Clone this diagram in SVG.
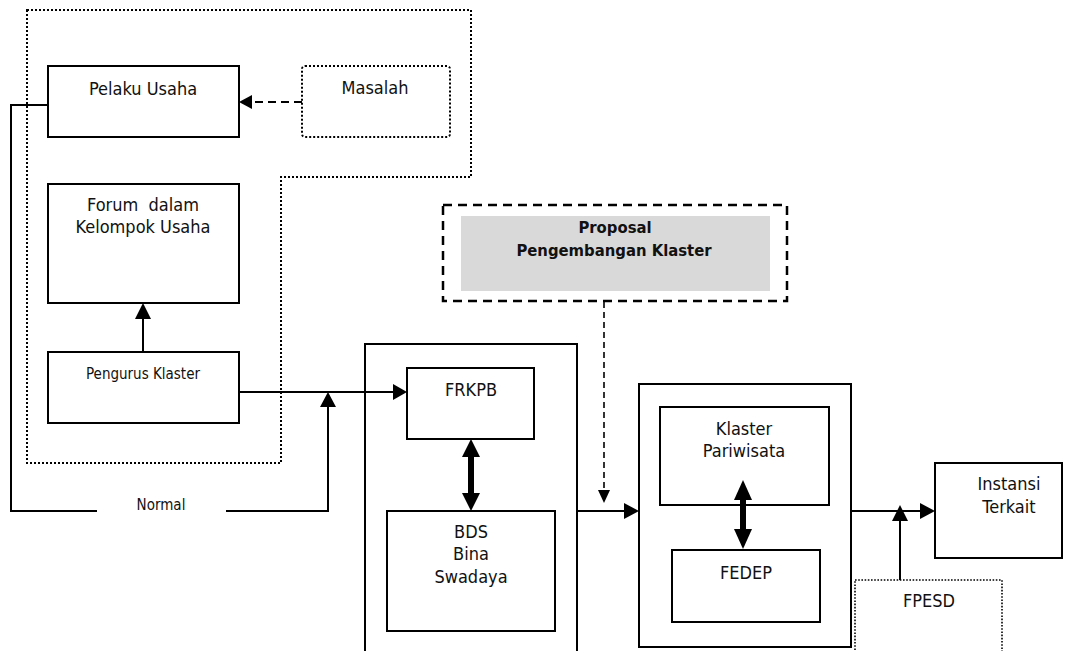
<svg xmlns="http://www.w3.org/2000/svg" width="1072" height="651" viewBox="0 0 1072 651">
<style>
text{font-family:"DejaVu Sans Condensed","DejaVu Sans",sans-serif;font-stretch:condensed;font-size:18px;fill:#111;text-anchor:middle}
.sm{font-size:15px}
.b{font-weight:bold;font-size:16.5px}
.box{fill:#fff;stroke:#000;stroke-width:2}
.dot{fill:none;stroke:#000;stroke-width:2;stroke-dasharray:2 2}
.ln{fill:none;stroke:#000;stroke-width:2}
</style>
<rect width="1072" height="651" fill="#fff"/>
<g id="cluster-boundary">
<path class="dot" d="M27,10 H471 V177 H281 V463 H27 Z"/>
</g>
<g id="pelaku-usaha"><rect class="box" x="48" y="66" width="191" height="71"/><text x="143" y="95">Pelaku Usaha</text></g>
<g id="masalah"><rect x="302" y="66" width="148" height="71" rx="3" fill="#fff" stroke="#000" stroke-width="2" stroke-dasharray="2 2"/><text x="375" y="94">Masalah</text></g>
<g id="forum"><rect class="box" x="48" y="184" width="191" height="119"/><text x="143" y="211" xml:space="preserve">Forum  dalam</text><text x="143" y="233">Kelompok Usaha</text></g>
<g id="pengurus"><rect class="box" x="48" y="352" width="191" height="71"/><text class="sm" x="143" y="379">Pengurus Klaster</text></g>
<g id="frkpb-group"><rect class="box" x="365" y="344" width="212" height="320"/></g>
<g id="frkpb"><rect class="box" x="407" y="368" width="127" height="71"/><text x="471" y="396">FRKPB</text></g>
<g id="bds"><rect class="box" x="387" y="511" width="168" height="120"/><text x="471" y="538">BDS</text><text x="471" y="560">Bina</text><text x="471" y="583">Swadaya</text></g>
<g id="proposal"><rect x="443" y="205" width="344" height="96" fill="#fff" stroke="#000" stroke-width="2.5" stroke-dasharray="9 6"/><rect x="461" y="216" width="309" height="75" fill="#d9d9d9"/><text class="b" x="615" y="233">Proposal</text><text class="b" x="614" y="256">Pengembangan Klaster</text></g>
<g id="klaster-group"><rect class="box" x="639" y="384" width="212" height="263"/></g>
<g id="klaster"><rect class="box" x="660" y="407" width="169" height="98"/><text x="744" y="435">Klaster</text><text x="744" y="457">Pariwisata</text></g>
<g id="fedep"><rect class="box" x="672" y="550" width="148" height="72"/><text x="746" y="579">FEDEP</text></g>
<g id="instansi"><rect class="box" x="935" y="463" width="127" height="95"/><text x="1009" y="490">Instansi</text><text x="1009" y="513">Terkait</text></g>
<g id="fpesd"><rect x="855" y="580" width="147" height="80" fill="#fff" stroke="#000" stroke-width="1.6" stroke-dasharray="1.6 1.6"/><text x="929" y="607">FPESD</text></g>
<g id="normal-label"><text class="sm" x="161" y="510">Normal</text></g>
<g id="connectors">
<line x1="302" y1="102" x2="250" y2="102" stroke="#000" stroke-width="2" stroke-dasharray="8 5"/>
<path d="M252,95 L239,102 L252,109 z" fill="#000"/>
<path class="ln" d="M48,105 H11 V511 H97"/>
<path class="ln" d="M226,511 H328 V400"/>
<path d="M320,407 L328,392 L336,407 z" fill="#000"/>
<path class="ln" d="M143,352 V315"/>
<path d="M135,319 L143,303 L151,319 z" fill="#000"/>
<path class="ln" d="M239,392 H396"/>
<path d="M393,384 L407,392 L393,400 z" fill="#000"/>
<line x1="471" y1="455" x2="471" y2="495" stroke="#000" stroke-width="6"/>
<path d="M462,457 L471,439 L480,457 z" fill="#000"/>
<path d="M462,493 L471,511 L480,493 z" fill="#000"/>
<line x1="604" y1="302" x2="604" y2="492" stroke="#000" stroke-width="1.6" stroke-dasharray="6 4"/>
<path d="M598,490 L604,503 L610,490 z" fill="#000"/>
<path class="ln" d="M577,511 H626"/>
<path d="M624,503 L639,511 L624,519 z" fill="#000"/>
<line x1="743" y1="497" x2="743" y2="532" stroke="#000" stroke-width="6"/>
<path d="M734,500 L743,480 L752,500 z" fill="#000"/>
<path d="M734,529 L743,549 L752,529 z" fill="#000"/>
<path class="ln" d="M851,511 H922"/>
<path d="M920,503 L935,511 L920,519 z" fill="#000"/>
<path class="ln" d="M900,580 V515"/>
<path d="M892,521 L900,505 L908,521 z" fill="#000"/>
</g>
</svg>
